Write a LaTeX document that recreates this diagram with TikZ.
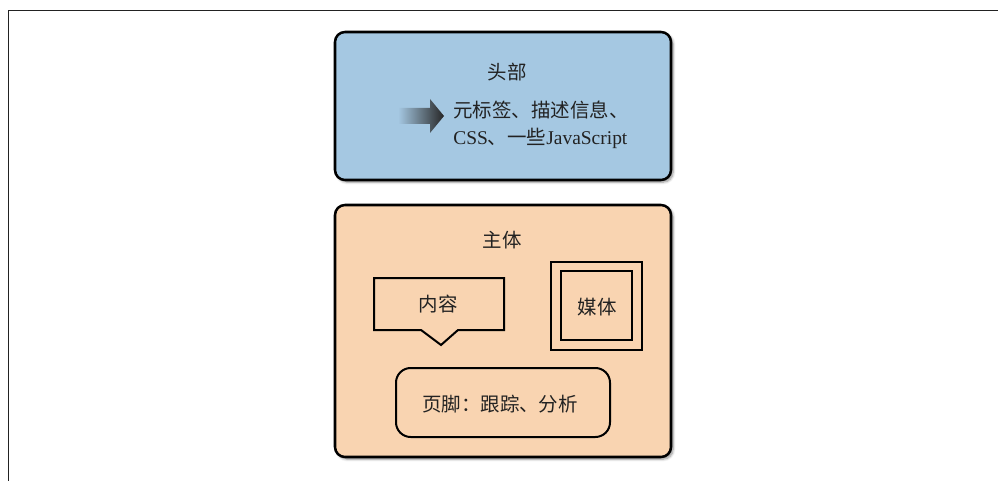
\documentclass[tikz,border=0pt]{standalone}
\usepackage{fontspec}
\setmainfont{Liberation Serif}
\newfontfamily\cjk{Noto Sans CJK SC}
\usetikzlibrary{shadows.blur}
\definecolor{headblue}{HTML}{A5C8E2}
\definecolor{bodyorange}{HTML}{F9D4B1}
\definecolor{ink}{HTML}{222222}
\tikzset{
  panel/.style={draw=black, line width=1.9pt, rounded corners=7.5pt,
    blur shadow={shadow xshift=1.6pt, shadow yshift=-1.6pt, shadow blur steps=6, shadow opacity=45}},
  inner/.style={draw=black, line width=1.5pt},
  lbl/.style={font=\cjk\fontsize{14.6}{18}\selectfont, text=ink, inner sep=0pt},
}
\begin{document}
\begin{tikzpicture}[x=0.75pt, y=-0.75pt]
\useasboundingbox (0,0) rectangle (998,481);
% page frame
\draw[line width=1.1pt, ink] (8.5,481) -- (8.5,10.5) -- (998,10.5);
% header panel
\path[panel, fill=headblue] (335,32) rectangle (671,180);
\node[lbl] (headlbl) at (507,72) {头部};
% arrow
\shade[left color=headblue, right color=black!85, shading angle=90]
  (398,108) -- (430,108) -- (430,99) -- (444,116) -- (430,133) -- (430,124) -- (398,124) -- cycle;
\node[lbl, anchor=west, align=left, font=\fontsize{14.6}{20.5}\selectfont] (headtxt) at (453,125)
  {{\cjk 元标签、描述信息、}\\CSS{\cjk 、一些}JavaScript};
% body panel
\path[panel, fill=bodyorange] (335,205) rectangle (671,457);
\node[lbl] (bodylbl) at (502,240) {主体};
% content callout
\draw[inner, line join=miter] (374,278) -- (504,278) -- (504,330) -- (458,330) -- (441,345) -- (421,330) -- (374,330) -- cycle;
\node[lbl] (content) at (438,304) {内容};
% media
\draw[inner] (551,262) rectangle (642,350);
\draw[inner] (561,271) rectangle (632,340);
\node[lbl] (media) at (597,307) {媒体};
% footer
\draw[inner, rounded corners=11pt] (396,368) rectangle (610,437);
\node[lbl] (footer) at (500,404) {页脚：跟踪、分析};
\end{tikzpicture}
\end{document}
